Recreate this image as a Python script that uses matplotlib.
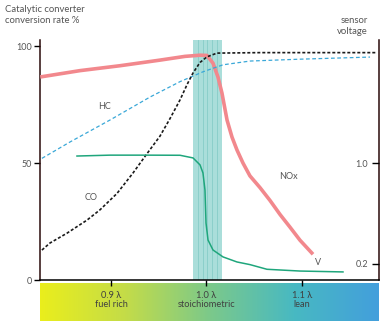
"""Catalytic converter conversion rate and lambda sensor voltage"""

import numpy as np
import matplotlib
matplotlib.use('Agg')
import matplotlib.pyplot as plt
from matplotlib.colors import LinearSegmentedColormap

plt.rcParams['font.family'] = ['Lato', 'DejaVu Sans']

# conversion rates (%) against lambda
nox_lambda = [0.826, 0.8675, 0.9094, 0.9513, 0.9775, 0.9932, 1.0005, 1.0068,
              1.0120, 1.0162, 1.0215, 1.0267, 1.0319, 1.0382, 1.0455, 1.0560,
              1.0665, 1.0770, 1.0874, 1.0979, 1.1115]
nox_rate = [86.8, 89.5, 91.6, 94.0, 95.6, 96.1, 96.0, 92.7, 86.8, 79.9, 68.4,
            61.1, 55.6, 50.0, 44.5, 39.5, 34.0, 28.0, 22.6, 17.0, 11.0]

co_lambda = [0.8277, 0.8361, 0.8539, 0.8749, 0.8885, 0.9063, 0.9230, 0.9377,
             0.9513, 0.9618, 0.9723, 0.9796, 0.9859, 0.9932, 1.0005, 1.0110,
             1.056, 1.1785]
co_rate = [12.8, 15.8, 20.0, 25.6, 30.0, 37.0, 45.7, 54.0, 61.5, 69.0, 77.0,
           83.5, 88.5, 93.0, 95.4, 97.0, 97.2, 97.2]

hc_lambda = [0.8277, 0.8571, 0.899, 0.9408, 0.9723, 0.9963, 1.0173, 1.0455,
             1.0979, 1.1712]
hc_rate = [52.0, 59.0, 68.4, 78.2, 84.8, 89.0, 92.0, 93.6, 94.4, 95.3]

# lambda sensor output (V)
sensor_lambda = [0.8644, 0.899, 0.9377, 0.9723, 0.9859, 0.9932, 0.9963,
                 0.9984, 0.9995, 1.0016, 1.0068, 1.0173, 1.0319, 1.0455,
                 1.0633, 1.0979, 1.1429]
sensor_volts = [1.056, 1.063, 1.063, 1.062, 1.041, 0.986, 0.922, 0.787,
                0.525, 0.39, 0.311, 0.256, 0.216, 0.195, 0.158, 0.144, 0.137]

window = (0.9859, 1.0162)
band_ticks = [0.9, 1.0, 1.1]
band_labels = ['0.9 λ\nfuel rich', '1.0 λ\nstoichiometric', '1.1 λ\nlean']
left_ticks = [0, 50, 100]
right_ticks = [0.2, 1.0]

W, H = 389, 331
XMIN, XMAX = 0.8257, 1.1806
TEXT = '#555555'
SPINE = '#2a0a0a'


def px(x0, y0, w, h):
    """pixel box (top-left origin) -> figure fraction rect"""
    return [x0 / W, 1 - (y0 + h) / H, w / W, h / H]


def plot_chart():
    fig = plt.figure(figsize=(W / 100, H / 100), dpi=100)

    # gradient strip under the axis
    band = fig.add_axes(px(40, 283, 339, 38))
    cmap = LinearSegmentedColormap.from_list(
        'mix', ['#eaee1c', '#c4dc48', '#7cc98a', '#48b9c2', '#439fdc'])
    band.imshow(np.linspace(0, 1, 256)[None, :], aspect='auto', cmap=cmap,
                extent=[XMIN, XMAX, 0, 1])
    band.set_xlim(XMIN, XMAX)
    band.set_ylim(0, 1)
    band.axis('off')
    for pos, lab in zip(band_ticks, band_labels):
        band.text(pos, 0.55, lab, ha='center', va='center', fontsize=6.7,
                  color='#404040', linespacing=1.0)

    ax = fig.add_axes(px(40, 40, 339, 240))
    ax.set_xlim(XMIN, XMAX)
    ax.set_ylim(0, 102.6)

    ax.axvspan(window[0], window[1], color='#aadeda', lw=0, zorder=1)
    for xv in np.linspace(window[0], window[1], 7)[1:-1]:
        ax.axvline(xv, color='#8ccfca', lw=0.7, zorder=1)

    ax.plot(nox_lambda, nox_rate, color='#f2888d', lw=2.6,
            solid_capstyle='butt', solid_joinstyle='round', zorder=3)
    ax.plot(hc_lambda, hc_rate, color='#3aa8d8', lw=0.9, ls=(0, (3, 2)),
            zorder=3)
    ax.plot(co_lambda, co_rate, color='#1a1a1a', lw=1.2, ls=(0, (1.8, 1.2)),
            zorder=4)

    ax.text(0.887, 73, 'HC', fontsize=6.5, color=TEXT)
    ax.text(0.872, 34, 'CO', fontsize=6.5, color=TEXT)
    ax.text(1.0765, 43, 'NOx', fontsize=6.5, color=TEXT)
    ax.text(1.1135, 6.5, 'V', fontsize=6.5, color=TEXT)

    ax.spines['top'].set_visible(False)
    ax.spines['left'].set_color(SPINE)
    ax.spines['right'].set_color(SPINE)
    ax.spines['bottom'].set_color('black')
    for side in ['left', 'right', 'bottom']:
        ax.spines[side].set_linewidth(1.1)

    ax.set_xticks(band_ticks)
    ax.set_xticklabels([])
    ax.tick_params(axis='x', direction='out', length=4, width=1,
                   color='black')
    ax.set_yticks(left_ticks)
    ax.set_yticklabels([str(t) for t in left_ticks], fontsize=6.5,
                       color=TEXT)
    ax.tick_params(axis='y', direction='out', length=4, width=1,
                   color='black', pad=2)

    # sensor voltage on the right, labels sitting inside the frame
    ax2 = ax.twinx()
    ax2.set_ylim(0.073, 1.976)
    ax2.plot(sensor_lambda, sensor_volts, color='#1fa67c', lw=1.1,
             solid_joinstyle='round', zorder=3)
    ax2.set_yticks(right_ticks)
    ax2.set_yticklabels(['0.2', '1.0'], fontsize=6.5, color=TEXT)
    ax2.tick_params(axis='y', direction='in', length=5, width=1,
                    color='black', pad=-8)
    for lab in ax2.get_yticklabels():
        lab.set_horizontalalignment('right')
    for side in ['top', 'left', 'bottom', 'right']:
        ax2.spines[side].set_visible(False)

    fig.text(5 / W, 1 - 15 / H, 'Catalytic converter\nconversion rate %',
             fontsize=6.8, color=TEXT, va='center', linespacing=1.15)
    fig.text(368 / W, 1 - 26 / H, 'sensor\nvoltage', fontsize=6.8,
             color=TEXT, ha='right', va='center', linespacing=1.15)

    plt.savefig('out.png', dpi=100)


if __name__ == "__main__":
    plot_chart()
